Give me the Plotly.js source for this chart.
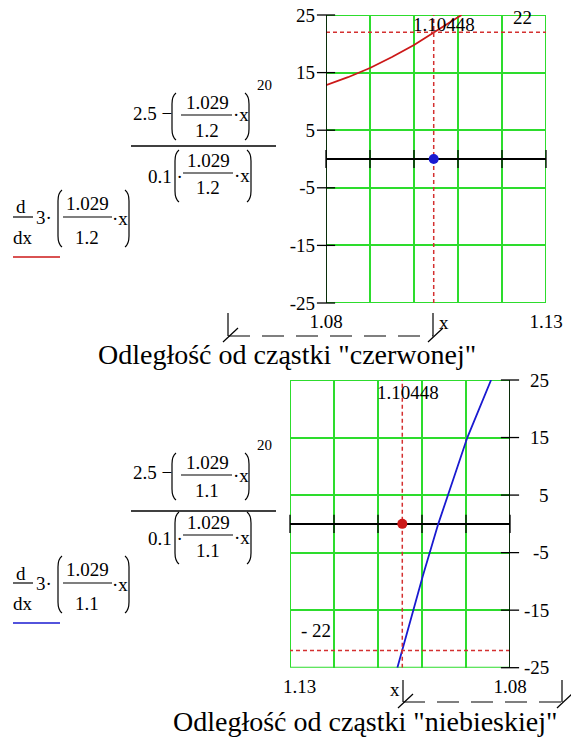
<!DOCTYPE html>
<html>
<head>
<meta charset="utf-8">
<script src="https://cdn.plot.ly/plotly-3.0.1.min.js"></script>
<style>
  html, body { margin: 0; padding: 0; background: #fff; }
  #chart { width: 571px; height: 742px; }
</style>
</head>
<body>
<div id="chart"></div>
<script>
// ---- data ----
// upper panel: derivative curve for the "red" particle
const redX = [1.08, 1.085, 1.09, 1.095, 1.10, 1.10448, 1.1108];
const redY = [12.8, 14.2, 15.8, 17.7, 19.8, 22.0, 25.0];
// lower panel: derivative curve for the "blue" particle
const blueX = [1.0843, 1.0870, 1.0897, 1.0930, 1.0963, 1.0998, 1.1021, 1.10448, 1.1056];
const blueY = [25, 20, 15, 7.5, 0, -9, -15.3, -22, -25];
// trace cursor
const markX = 1.10448;
const markTopY = 22;
const markBotY = -22;
const rootY = 0;
// axes
const xRange = [1.08, 1.13];
const yRange = [-25, 25];
const xGrid = [1.08, 1.09, 1.10, 1.11, 1.12, 1.13];
const xTickTextTop = ['1.08', '', '', '', '', '1.13'];
const xTickTextBottom = ['1.08', '', '', '', '', '\u00a0\u00a0\u00a0\u00a01.13'];
const yTicks = [-25, -15, -5, 5, 15, 25];
const yTickText = ['-25', '-15', '-5', '5', '15', '25'];
// formula texts
const coefText = '1.029';
const divTop = '1.2';
const divBottom = '1.1';
const titleTop = 'Odległość od cząstki "czerwonej"';
const titleBottom = 'Odległość od cząstki "niebieskiej"';

// ---- page geometry helpers (pixels -> paper) ----
const W = 571, H = 742;
const px = x => x / W;
const py = y => 1 - y / H;
const SERIF = "'Liberation Serif', 'DejaVu Serif', serif";
const GREEN = '#2ddc2d';
const RED = '#cc1818';
const BLUE = '#1a1ad0';
const CURSOR = '#d43030';

function txt(text, x, y, size, anchor) {
  return { text: text, xref: 'paper', yref: 'paper', x: px(x), y: py(y),
    xanchor: anchor || 'center', yanchor: 'middle', showarrow: false,
    font: { family: SERIF, size: size || 19, color: '#000' } };
}
function seg(x0, y0, x1, y1, color, width, dash) {
  return { type: 'line', xref: 'paper', yref: 'paper',
    x0: px(x0), y0: py(y0), x1: px(x1), y1: py(y1),
    line: { color: color || '#000', width: width || 1.2, dash: dash || 'solid' } };
}
function paren(x, top, bot, dir) {
  const c = 4 * dir;
  const p = (a, b) => px(a) + ',' + py(b);
  return { type: 'path', xref: 'paper', yref: 'paper',
    path: 'M ' + p(x + c, top) + ' Q ' + p(x, top + 3) + ' ' + p(x, top + 11) +
          ' L ' + p(x, bot - 11) + ' Q ' + p(x, bot - 3) + ' ' + p(x + c, bot),
    line: { color: '#000', width: 1.2 } };
}

// formula block: fraction and derivative expressions with a coloured legend line
function formula(div, nb, mb, db, vb, color) {
  const ann = [], shp = [];
  // numerator: 2.5 - (1.029/div * x)^20
  ann.push(txt('2.5 \u2212', 131, nb - 2, 19, 'left'));
  shp.push(paren(172, nb - 22, nb + 25, 1));
  ann.push(txt(coefText, 207, nb - 13));
  shp.push(seg(181, nb, 232, nb));
  ann.push(txt(div, 207, nb + 15));
  ann.push(txt('\u00b7x', 231, nb, 19, 'left'));
  shp.push(paren(249, nb - 22, nb + 25, -1));
  ann.push(txt('20', 264, nb - 30, 15));
  // main fraction bar
  shp.push(seg(131, mb, 276, mb, '#000', 1.3));
  // denominator: 0.1 * (1.029/div * x)
  ann.push(txt('0.1 \u00b7', 146, db + 3, 19, 'left'));
  shp.push(paren(175, db - 23, db + 29, 1));
  ann.push(txt(coefText, 208, db - 13));
  shp.push(seg(183, db, 233, db));
  ann.push(txt(div, 208, db + 15));
  ann.push(txt('\u00b7x', 232, db + 2, 19, 'left'));
  shp.push(paren(251, db - 23, db + 29, -1));
  // derivative d/dx 3 * (1.029/div * x)
  ann.push(txt('d', 21, vb - 10));
  shp.push(seg(13, vb, 33, vb));
  ann.push(txt('dx', 23, vb + 20));
  ann.push(txt('3\u00b7', 34, vb, 19, 'left'));
  shp.push(paren(58, vb - 27, vb + 30, 1));
  ann.push(txt(coefText, 87, vb - 14));
  shp.push(seg(63, vb, 112, vb));
  ann.push(txt(div, 87, vb + 20));
  ann.push(txt('\u00b7x', 110, vb + 1, 19, 'left'));
  shp.push(paren(129, vb - 27, vb + 30, -1));
  // legend line under the expression
  shp.push(seg(13, vb + 40, 60, vb + 40, color, 1.6));
  return { ann: ann, shp: shp };
}

// x-range placeholder brackets under each plot
function bracket(xl, xr, top, base) {
  const s = [];
  s.push(seg(xl, top, xl, base));
  s.push(seg(xl - 5, base + 6, xl + 10, base - 8));
  s.push(seg(xl, base, xr, base, '#000', 1.2, '22px,12px'));
  s.push(seg(xr, top, xr, base));
  s.push(seg(xr - 5, base + 6, xr + 10, base - 8));
  return s;
}

// ---- traces ----
const traces = [];
function panel(xa, ya, yAxisX, curveX, curveY, curveColor, markY, markColor) {
  traces.push({ x: curveX, y: curveY, xaxis: xa, yaxis: ya, type: 'scatter', mode: 'lines',
    line: { color: curveColor, width: 1.8 }, hoverinfo: 'skip' });
  // trace cursor cross-hairs
  traces.push({ x: [markX, markX], y: yRange, xaxis: xa, yaxis: ya, mode: 'lines',
    line: { color: CURSOR, width: 1.5, dash: '4px,3px' }, hoverinfo: 'skip' });
  traces.push({ x: xRange, y: [markY, markY], xaxis: xa, yaxis: ya, mode: 'lines',
    line: { color: CURSOR, width: 1.5, dash: '4px,3px' }, hoverinfo: 'skip' });
  // ticks crossing the horizontal axis at y = 0
  traces.push({ x: xGrid, y: xGrid.map(() => 0), xaxis: xa, yaxis: ya, mode: 'markers',
    marker: { symbol: 'line-ns', size: 13, line: { color: '#000', width: 1.3 } },
    cliponaxis: false, hoverinfo: 'skip' });
  // ticks crossing the vertical axis
  traces.push({ x: yTicks.map(() => yAxisX), y: yTicks, xaxis: xa, yaxis: ya, mode: 'markers',
    marker: { symbol: 'line-ew', size: 13, line: { color: '#000', width: 1.3 } },
    cliponaxis: false, hoverinfo: 'skip' });
  // root marker
  traces.push({ x: [markX], y: [rootY], xaxis: xa, yaxis: ya, mode: 'markers',
    marker: { symbol: 'circle', size: 10, color: markColor }, cliponaxis: false, hoverinfo: 'skip' });
}
panel('x', 'y', xRange[0], redX, redY, RED, markTopY, BLUE);
panel('x2', 'y2', xRange[0], blueX, blueY, BLUE, markBotY, RED);

// ---- axes ----
const tickFont = { family: SERIF, size: 19, color: '#000' };
function xAxis(dom, range, anchor, tickText) {
  return { domain: dom, range: range, anchor: anchor, tickvals: xGrid, ticktext: tickText,
    showgrid: true, gridcolor: GREEN, gridwidth: 2, zeroline: false, showline: false,
    ticks: '', tickfont: tickFont, ticklabelstandoff: 5, fixedrange: true };
}
function yAxis(dom, anchor, side, showLabels) {
  return { domain: dom, range: yRange, anchor: anchor, side: side, tickvals: yTicks, ticktext: yTickText,
    showticklabels: showLabels, showgrid: true, gridcolor: GREEN, gridwidth: 2,
    zeroline: true, zerolinecolor: '#000', zerolinewidth: 1.6, showline: false,
    ticks: '', tickfont: tickFont, ticklabelstandoff: 10, fixedrange: true };
}

const topF = formula(divTop, 115, 146, 173, 217, RED);
const botF = formula(divBottom, 475, 511, 535, 583, BLUE);

// plot frames and vertical axis lines, built from the axis ranges
function frame(xa, ya) {
  return [
    { type: 'rect', xref: xa, yref: ya, x0: xRange[0], x1: xRange[1], y0: yRange[0], y1: yRange[1],
      layer: 'below', line: { color: GREEN, width: 2 } },
    { type: 'line', xref: xa, yref: ya, x0: xRange[0], x1: xRange[0], y0: yRange[0], y1: yRange[1],
      layer: 'above', line: { color: '#000', width: 1.6 } }
  ];
}

const shapes = [].concat(
  frame('x', 'y'),
  frame('x2', 'y2'),
  bracket(228, 433, 313, 336),
  bracket(403, 562, 680, 702),
  topF.shp, botF.shp
);

const annotations = [].concat(
  topF.ann, botF.ann,
  [
    // cursor readouts
    { text: String(markX), xref: 'x', x: markX, xshift: 10, yref: 'paper', y: py(25),
      showarrow: false, font: tickFont, xanchor: 'center', yanchor: 'middle' },
    { text: String(markTopY), xref: 'paper', x: px(522), yref: 'paper', y: py(17),
      showarrow: false, font: tickFont, xanchor: 'center', yanchor: 'middle' },
    { text: String(markX), xref: 'x2', x: markX, xshift: 6, yref: 'paper', y: py(392),
      showarrow: false, font: tickFont, xanchor: 'center', yanchor: 'middle' },
    { text: '- ' + Math.abs(markBotY), xref: 'paper', x: px(316), yref: 'paper', y: py(630),
      showarrow: false, font: tickFont, xanchor: 'center', yanchor: 'middle' },
    // variable labels
    { text: 'x', xref: 'x', x: markX, xshift: 10, yref: 'paper', y: py(322),
      showarrow: false, font: tickFont, xanchor: 'center', yanchor: 'middle' },
    { text: 'x', xref: 'x2', x: markX, xshift: -7, yref: 'paper', y: py(689),
      showarrow: false, font: tickFont, xanchor: 'center', yanchor: 'middle' },
    // titles
    txt(titleTop, 287, 354, 28),
    txt(titleBottom, 365, 721, 28)
  ],
  // right-hand tick labels of the lower panel
  yTicks.map((v, i) => ({ text: yTickText[i], xref: 'paper', x: px(551), yref: 'y2', y: v,
    xanchor: 'right', yanchor: 'middle', showarrow: false, font: tickFont }))
);

const layout = {
  width: W, height: H,
  margin: { l: 0, r: 0, t: 0, b: 0 },
  paper_bgcolor: '#fff', plot_bgcolor: '#fff',
  showlegend: false,
  xaxis: xAxis([px(326), px(546)], xRange.slice(), 'y', xTickTextTop),
  yaxis: yAxis([py(303), py(15)], 'x', 'left', true),
  xaxis2: xAxis([px(290), px(510)], xRange.slice().reverse(), 'y2', xTickTextBottom),
  yaxis2: yAxis([py(667.7), py(380)], 'x2', 'right', false),
  shapes: shapes,
  annotations: annotations
};

Plotly.newPlot('chart', traces, layout, { displayModeBar: false, staticPlot: true });
</script>
</body>
</html>
